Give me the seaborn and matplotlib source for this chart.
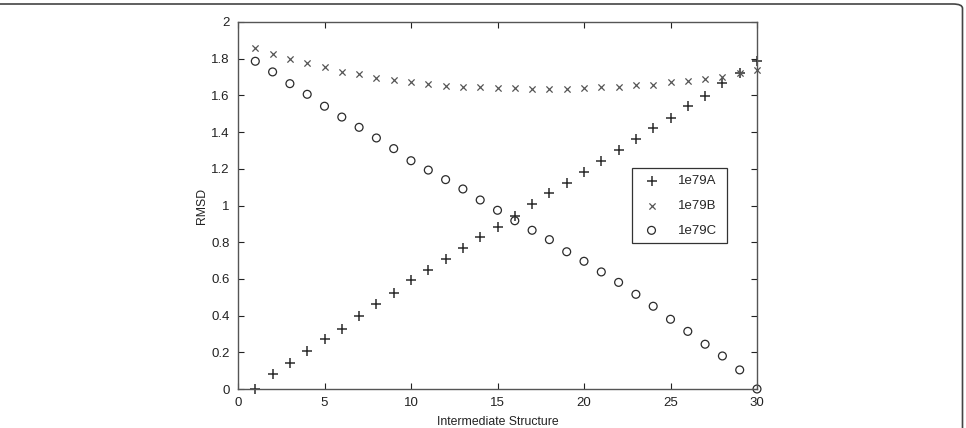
import numpy as np
import pandas as pd
import matplotlib
matplotlib.use('Agg')
import matplotlib.pyplot as plt
from matplotlib.patches import FancyBboxPatch
import seaborn as sns

# RMSD of each intermediate structure against the three chains
structure = list(range(1, 31))
rmsd_a = [0.0, 0.083, 0.142, 0.207, 0.271, 0.329, 0.400, 0.461, 0.523, 0.594,
          0.650, 0.708, 0.767, 0.827, 0.885, 0.943, 1.008, 1.066, 1.123, 1.181,
          1.244, 1.300, 1.360, 1.420, 1.478, 1.542, 1.598, 1.666, 1.722, 1.787]
rmsd_b = [1.857, 1.826, 1.798, 1.775, 1.755, 1.729, 1.717, 1.697, 1.684, 1.673,
          1.664, 1.653, 1.646, 1.647, 1.639, 1.639, 1.633, 1.633, 1.633, 1.640,
          1.646, 1.646, 1.655, 1.659, 1.673, 1.678, 1.689, 1.702, 1.722, 1.737]
rmsd_c = [1.786, 1.728, 1.664, 1.606, 1.541, 1.482, 1.426, 1.368, 1.310, 1.244,
          1.193, 1.141, 1.090, 1.030, 0.974, 0.917, 0.865, 0.814, 0.748, 0.696,
          0.638, 0.581, 0.516, 0.451, 0.380, 0.314, 0.244, 0.180, 0.104, 0.0]
labels = ['1e79A', '1e79B', '1e79C']

df = pd.DataFrame({'structure': structure, '1e79A': rmsd_a,
                   '1e79B': rmsd_b, '1e79C': rmsd_c})

sns.set_style('ticks')
plt.rcParams['font.family'] = ['Liberation Sans', 'DejaVu Sans']

fig = plt.figure(figsize=(9.66, 4.28), dpi=100)
ax = fig.add_axes([238 / 966, 1 - 389 / 428, 519 / 966, 367 / 428])

sns.scatterplot(data=df, x='structure', y='1e79A', marker='+', s=45,
                color='#2b2b2b', linewidth=1.1, ax=ax, label=labels[0], clip_on=False)
sns.scatterplot(data=df, x='structure', y='1e79B', marker='x', s=20,
                color='#555555', linewidth=0.9, ax=ax, label=labels[1], clip_on=False)
sns.scatterplot(data=df, x='structure', y='1e79C', marker='o', s=32,
                facecolor='none', edgecolor='#2b2b2b', linewidth=0.9, ax=ax,
                label=labels[2], clip_on=False)

ax.set_xlim(0, 30)
ax.set_ylim(0, 2)
ax.set_xticks(range(0, 31, 5))
ax.set_yticks(np.arange(0, 2.01, 0.2))
ax.set_yticklabels(['0', '0.2', '0.4', '0.6', '0.8', '1', '1.2', '1.4', '1.6', '1.8', '2'])
ax.tick_params(direction='in', length=4, width=0.8, top=True, right=True,
               labelsize=9.5, colors='#222222', pad=6)
for s in ax.spines.values():
    s.set_color('#555555')
    s.set_linewidth(1.0)
ax.set_xlabel('Intermediate Structure', fontsize=8.8, color='#222222', labelpad=5)
ax.set_ylabel('RMSD', fontsize=8.8, color='#222222', labelpad=2)

leg = ax.legend(loc='upper left', bbox_to_anchor=(0.7586, 0.601, 0.184, 0.0),
                mode='expand', fancybox=False, edgecolor='#333333', fontsize=9.5,
                handletextpad=1.0, borderpad=0.5, labelspacing=0.95, framealpha=1,
                borderaxespad=0)
leg.get_frame().set_linewidth(0.9)

# outer rounded frame
frame = FancyBboxPatch((-0.01, -0.1), 962.5 / 966 + 0.01, 1.1 - 4 / 428,
                       boxstyle='round,pad=0,rounding_size=0.01',
                       transform=fig.transFigure, fill=False,
                       edgecolor='#444444', linewidth=1.2)
fig.patches.append(frame)

fig.savefig('out.png', dpi=100)
